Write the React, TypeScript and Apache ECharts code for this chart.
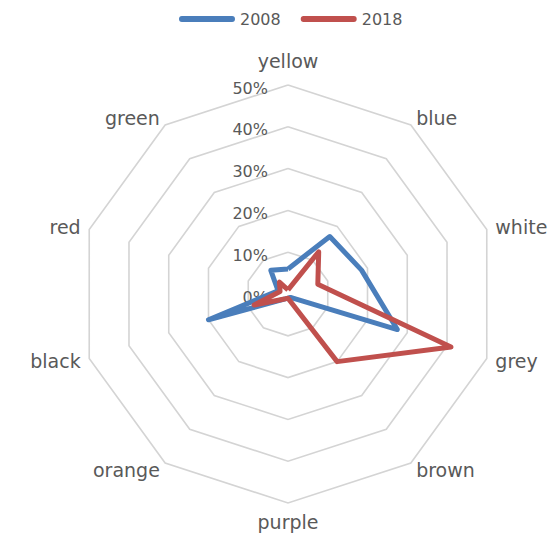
import React, { useEffect, useRef } from "react";
import * as echarts from "echarts";

// indicator names in clockwise order starting from the top
const categories = ["yellow", "blue", "white", "grey", "brown", "purple", "orange", "black", "red", "green"];
const values2008 = [6, 17, 18.5, 27.5, 1, 1, 1.5, 20, 2.5, 7];
const values2018 = [1, 12.5, 7.5, 41, 20, 1, 1.5, 8.5, 2, 3.5];
const seriesNames = ["2008", "2018"];
const seriesColors = ["#4a7ebb", "#c0504d"];
const axisMax = 50;
const axisSplits = 5;

// ECharts lays radar indicators counter-clockwise; reorder so they read clockwise
const ccwIndex = categories.map((_, i) => (i === 0 ? 0 : categories.length - i));
const ccwCategories = ccwIndex.map((i) => categories[i]);
const ccw2008 = ccwIndex.map((i) => values2008[i]);
const ccw2018 = ccwIndex.map((i) => values2018[i]);

const FONT = "DejaVu Sans";
const TEXT = "#595959";

export default function App() {
  const ref = useRef<HTMLDivElement>(null);
  useEffect(() => {
    if (!ref.current) return;
    const chart = echarts.init(ref.current, undefined, { renderer: "svg" });
    const pill = "path://M3,0 H55 A3,3 0 0 1 55,6 H3 A3,3 0 0 1 3,0 Z";
    chart.setOption({
      animation: false,
      backgroundColor: "#ffffff",
      color: seriesColors,
      legend: {
        top: 6,
        left: 174,
        data: seriesNames.map((n) => ({ name: n, icon: pill })),
        itemWidth: 56,
        itemHeight: 6,
        itemGap: 20,
        textStyle: { fontFamily: FONT, fontSize: 16, color: TEXT },
      },
      radar: {
        center: [288, 294],
        radius: 209,
        startAngle: 90,
        shape: "polygon",
        splitNumber: axisSplits,
        indicator: ccwCategories.map((name, i) => {
          const ind: any = { name, min: 0, max: axisMax };
          if (i !== 0) ind.axisLabel = { show: false };
          return ind;
        }),
        axisName: {
          fontFamily: FONT,
          fontSize: 19,
          color: TEXT,
          formatter: (name: string) => (name === categories[0] ? "{t|" + name + "}" : name),
          rich: {
            t: { fontFamily: FONT, fontSize: 19, color: TEXT, padding: [0, 0, 6, 0] },
          },
        },
        nameGap: 9,
        axisLine: { show: false },
        axisTick: { show: false },
        splitArea: { show: false },
        splitLine: { lineStyle: { color: "#d4d4d4", width: 1.6 } },
        axisLabel: {
          show: true,
          formatter: "{v|{value}%}",
          margin: 20,
          rich: {
            v: { fontFamily: FONT, fontSize: 16, color: TEXT, padding: [6, 0, 0, 0] },
          },
        },
      },
      series: [
        {
          type: "radar",
          symbol: "none",
          lineStyle: { width: 5, join: "round" },
          data: [
            { name: seriesNames[0], value: ccw2008, lineStyle: { color: seriesColors[0], width: 5 } },
            { name: seriesNames[1], value: ccw2018, lineStyle: { color: seriesColors[1], width: 5 } },
          ],
        },
      ],
    });
    return () => chart.dispose();
  }, []);
  return (
    <div
      ref={ref}
      style={{ position: "fixed", left: 0, top: 0, width: 550, height: 537 }}
    />
  );
}
